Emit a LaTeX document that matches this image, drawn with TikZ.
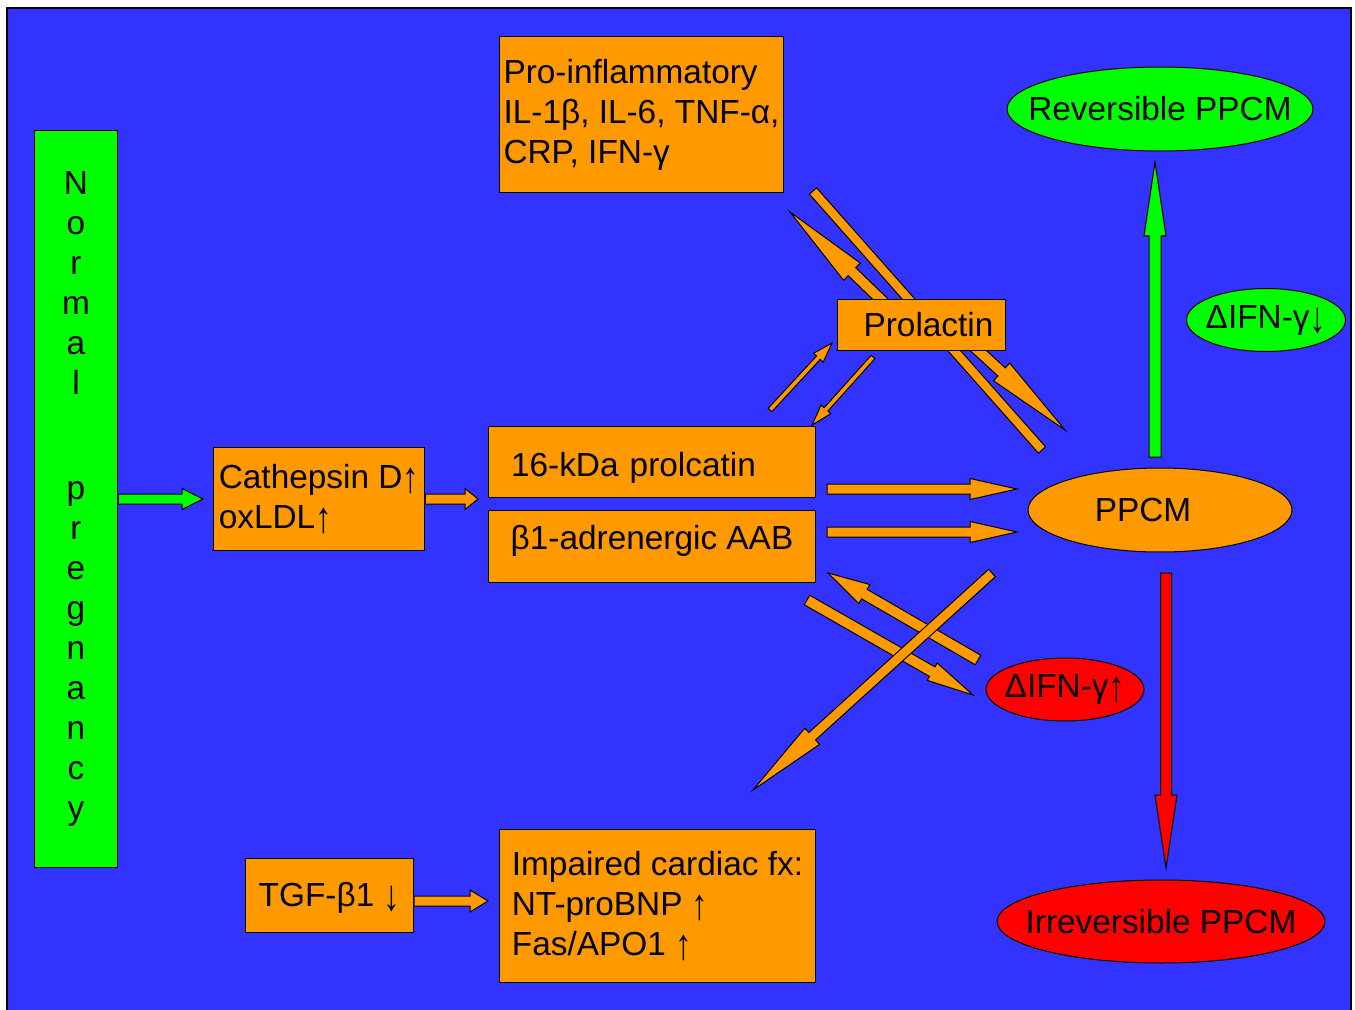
\documentclass[tikz,border=0pt]{standalone}
\usepackage{fontspec}
\setmainfont{Liberation Sans}
\usetikzlibrary{shapes.geometric, calc}
\definecolor{bg-blue}{HTML}{3333FF}
\definecolor{ppcm-orange}{HTML}{FF9900}
\definecolor{rev-green}{HTML}{00FF00}
\definecolor{irrev-red}{HTML}{FF0000}

\tikzset{
  box/.style={draw=black, fill=ppcm-orange, line width=0.02cm, inner sep=0pt, align=left},
  oval/.style={ellipse, draw=black, line width=0.02cm, inner sep=0pt},
  arrowline/.style={draw=black, line width=0.02cm, line join=miter}
}

% taller arrow glyphs, as in the slide
\newcommand{\arrup}{\raisebox{-0.12em}{\scalebox{1}[1.3]{↑}}}
\newcommand{\arrdown}{\raisebox{-0.12em}{\scalebox{1}[1.3]{↓}}}

% block arrow: [fill]{from}{to}{shaft half}{head half}{head length}, sizes in px
\newcommand{\blockarrow}[6][ppcm-orange]{%
  \coordinate (neck) at ($(#3)!#6*0.02cm!(#2)$);
  \filldraw[arrowline, fill=#1] ($(#2)!#4*0.02cm!90:(#3)$)
    -- ($(neck)!#4*0.02cm!-90:(#2)$) -- ($(neck)!#5*0.02cm!-90:(#2)$)
    -- (#3)
    -- ($(neck)!#5*0.02cm!90:(#2)$) -- ($(neck)!#4*0.02cm!90:(#2)$)
    -- ($(#2)!#4*0.02cm!-90:(#3)$) -- cycle;}
\newcommand{\blockbar}[4][ppcm-orange]{%
  \filldraw[arrowline, fill=#1] ($(#2)!#4*0.02cm!90:(#3)$)
    -- ($(#3)!#4*0.02cm!-90:(#2)$) -- ($(#3)!#4*0.02cm!90:(#2)$)
    -- ($(#2)!#4*0.02cm!-90:(#3)$) -- cycle;}

\begin{document}
\begin{tikzpicture}[x=0.02cm, y=-0.02cm,
      every node/.style={font=\fontsize{19}{22.8}\selectfont}]
    \useasboundingbox (0,0) rectangle (1355,1010);
    \fill[white] (0,0) rectangle (1355,1010);
    \filldraw[fill=bg-blue, draw=black, line width=0.05cm] (7,8) rectangle (1351,1020);

    \node[box, fill=rev-green, align=center, minimum width=1.68cm, minimum height=14.76cm]
      (normal) at (76,499) {N\\o\\r\\m\\a\\l\\[1.3cm]p\\r\\e\\g\\n\\a\\n\\c\\y};
    \node[box, minimum width=4.24cm, minimum height=2.08cm] (cath) at (319,499)
      {Cathepsin D\arrup\\oxLDL\arrup};
    \node[box, text width=5.64cm, inner xsep=0.46cm, text height=0.7cm, minimum height=1.44cm]
      (kda) at (652,462) {16-kDa prolcatin};
    \node[box, text depth=0.38cm, minimum width=6.56cm, minimum height=1.46cm] (beta) at (652,546.5)
      {β1-adrenergic AAB};
    \node[box, minimum width=5.7cm, minimum height=3.14cm] (proinf) at (641.5,114.5)
      {Pro-inflammatory\\IL-1β, IL-6, TNF-α,\\CRP, IFN-γ};
    \node[box, text height=0.6cm, minimum width=3.38cm, minimum height=1.48cm] (tgf) at (329.5,895)
      {TGF-β1 \arrdown};
    \node[box, minimum width=6.34cm, minimum height=3.06cm] (impair) at (657.5,906)
      {Impaired cardiac fx:\\NT-proBNP \arrup\\Fas/APO1 \arrup};

    \node[oval, fill=rev-green, minimum width=6.12cm, minimum height=1.68cm] (rev) at (1160,109)
      {\makebox[0pt]{Reversible PPCM}};
    \node[oval, fill=rev-green, minimum width=3.18cm, minimum height=1.26cm] (ifndown) at (1266,320)
      {\makebox[0pt]{ΔIFN-γ\arrdown}};
    \node[oval, fill=ppcm-orange, minimum width=5.28cm, minimum height=1.68cm] (ppcm) at (1160,510)
      {\makebox[0pt]{\kern-0.68cm PPCM}};
    \node[oval, fill=irrev-red, minimum width=3.16cm, minimum height=1.26cm] (ifnup) at (1065,689.5)
      {\makebox[0pt]{ΔIFN-γ\arrup}};
    \node[oval, fill=irrev-red, minimum width=6.56cm, minimum height=1.66cm] (irrev) at (1161,921.5)
      {\makebox[0pt]{Irreversible PPCM}};

    % free ends of the block arrows
    \coordinate (normal-tip) at (203,499);
    \coordinate (cath-tip) at (478,499);
    \coordinate (kda-tail) at (827,489);
    \coordinate (kda-tip) at (1017,489);
    \coordinate (beta-tail) at (827,532);
    \coordinate (beta-tip) at (1017,532);
    \coordinate (up-tail) at (770,410);
    \coordinate (up-tip) at (832,343);
    \coordinate (down-tail) at (873,357);
    \coordinate (down-tip) at (812,425);
    \coordinate (bar-top) at (813,191);
    \coordinate (bar-end) at (1042,450);
    \coordinate (prl-back) at (900,318);
    \coordinate (proinf-tip) at (790,212);
    \coordinate (prl-out) at (958,332);
    \coordinate (ppcm-tip) at (1065,430);
    \coordinate (ifn-tail) at (978,660);
    \coordinate (beta-in) at (828,573);
    \coordinate (beta-out) at (807,600);
    \coordinate (ifn-tip) at (973,695);
    \coordinate (ppcm-out) at (992,573);
    \coordinate (impair-tip) at (753,790);
    \coordinate (rev-tail) at (1155,457);
    \coordinate (rev-tip) at (1155,162);
    \coordinate (irrev-tail) at (1166,573);
    \coordinate (irrev-tip) at (1166,868);
    \coordinate (tgf-tail) at (414,901);
    \coordinate (tgf-tip) at (488,901);

    \blockarrow[rev-green]{normal.east}{normal-tip}{5}{10.5}{21}
    \blockarrow{cath.east}{cath-tip}{5}{10.5}{13}
    \blockarrow{kda-tail}{kda-tip}{5}{10.5}{47}
    \blockarrow{beta-tail}{beta-tip}{5}{10.5}{47}
    \blockarrow{up-tail}{up-tip}{2.5}{6.5}{20}
    \blockarrow{down-tail}{down-tip}{2.5}{6.5}{21}
    \blockbar{bar-top}{bar-end}{4.8}
    \blockarrow{prl-back}{proinf-tip}{5.5}{12}{86}
    \blockarrow{prl-out}{ppcm-tip}{5.5}{12}{86}
    \blockarrow{ifn-tail}{beta-in}{5.5}{11}{42}
    \blockarrow{beta-out}{ifn-tip}{5.5}{10}{47}
    \blockarrow{ppcm-out}{impair-tip}{5}{11}{80}
    \blockarrow[rev-green]{rev-tail}{rev-tip}{6}{11}{74}
    \blockarrow[irrev-red]{irrev-tail}{irrev-tip}{5.5}{11}{73}
    \blockarrow{tgf-tail}{tgf-tip}{5}{11}{18}

    \node[box, minimum width=3.38cm, minimum height=1.04cm] (prl) at (921.5,325)
      {\hspace*{0.28cm}Prolactin};
  \end{tikzpicture}
\end{document}
